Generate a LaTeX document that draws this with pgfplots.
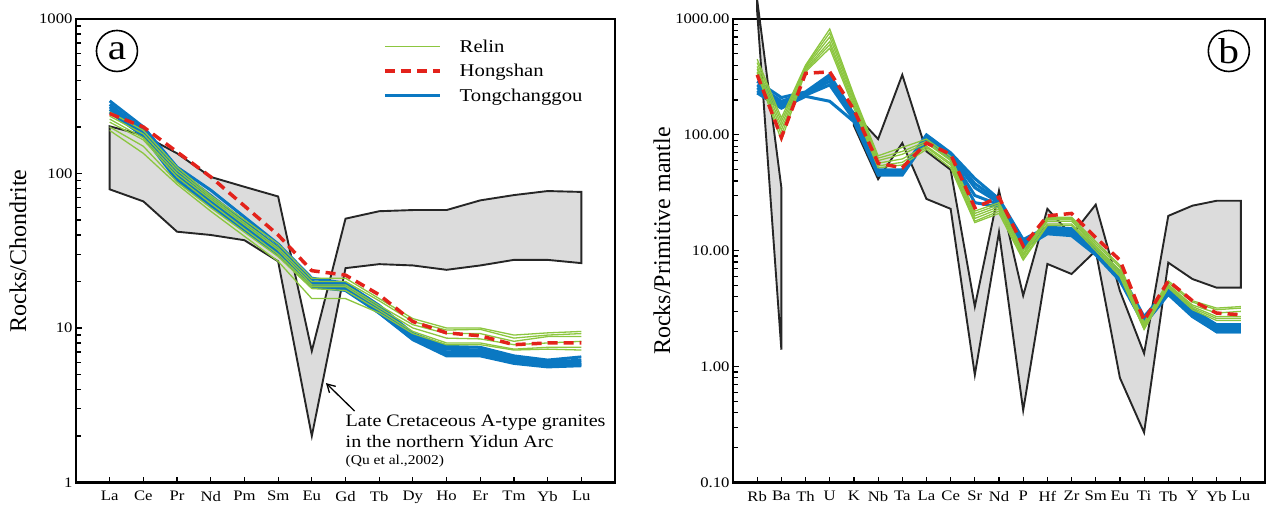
\documentclass[border=0pt]{standalone}
\usepackage{fontspec}
\setmainfont{Liberation Serif}[FakeStretch=1.15]
\newfontfamily\labelfont{Liberation Serif}
\usepackage{pgfplots}
\pgfplotsset{compat=1.18}
\usepackage{pgfplotstable}
\usetikzlibrary{arrows.meta}

\definecolor{relin}{HTML}{8CC63F}
\definecolor{hong}{HTML}{E3221B}
\definecolor{tong}{HTML}{0A78C2}
\definecolor{field}{HTML}{DCDCDC}

% Chondrite-normalised REE (panel a)
\pgfplotstableread{
x  r1   r2   r3   r4   r5   r6   t1   t2   t3   t4   t5   h
0  250  235  225  215  200  190  295  280  270  260  250  244
1  190  180  170  165  150  135  200  190  185  180  175  200
2  110  105  100  95   88   85   110  105  100  95   90   138
3  72   70   68   64   60   57   78   72   68   65   62   95
5  35   33   32   30   29   27   35   33   32   31   30   40
6  21   20   19   18.5 18   15.5 21   20   19.5 19   18.5 23.5
7  21   20   19   18.5 17.5 15.5 19.5 19   18.5 18   17.5 22
8  15.5 15   14   13.5 13   12.5 14   13.5 13   12.5 12.5 16.4
9  11.5 11   10.5 10   9.5  9.2  9.2  9    8.8  8.5  8.4  11
10 10   9.7  9.2  8.6  8    7.8  7.6  7.3  7    6.8  6.6  9.3
11 10   9.8  9.2  8.5  8    7.8  7.5  7.2  7    6.8  6.6  8.9
12 9    8.6  8.2  7.8  7.3  7.2  6.6  6.4  6.2  6.0  5.9  7.8
13 9.3  9    8.8  8    7.5  7.3  6.2  6.0  5.9  5.8  5.6  8.0
14 9.5  9.2  8.8  8.2  7.5  7.2  6.5  6.2  6.0  5.8  5.7  8.0
}\tabA

% Primitive-mantle-normalised trace elements (panel b)
\pgfplotstableread{
x  r1   r2   r3   r4   r5   r6   t1   t2   t3   t4   t5   h
0  450  420  390  370  350  340  290  270  255  240  230  330
1  140  130  120  110  100  90   210  195  185  175  170  95
2  400  390  380  370  360  350  235  230  225  220  215  340
3  820  760  700  640  600  560  330  310  290  270  195  350
4  220  210  200  190  180  170  150  145  140  135  130  165
5  66   63   60   57   54   52   50   48   47   46   45   57
6  78   72   68   62   58   55   50   48   47   46   45   52
7  92   88   85   80   78   75   100  97   95   93   90   85
8  65   62   60   57   55   52   70   68   66   64   62   68
9  22   21   20   19   18   17.5 42   38   35   30   26   23.5
10 26   25   24   23   22   21   28   27   26   25   24   29
11 10   9.5  9.2  9    8.6  8.3  12.5 12   11.5 11   10.5 11
12 19.5 19   18.5 18   17   16.5 16   15.5 15   14.5 14   20
13 19.5 19   18.5 18   17   16.5 15.5 15   14.5 14   13.5 21
14 12   11.5 11   10.8 10.5 10   10.5 10   9.8  9.5  9.2  13
15 7.5  7.2  6.8  6.5  6.2  6    6.5  6.2  6    5.8  5.5  8.3
16 2.4  2.3  2.25 2.2  2.1  2.1  2.7  2.6  2.5  2.4  2.3  2.5
17 5.5  5.3  5.1  5    4.9  4.8  4.7  4.5  4.4  4.3  4.2  5.5
18 3.7  3.6  3.4  3.3  3.2  3.1  3.1  3.0  2.9  2.8  2.7  3.7
19 3.2  3.1  2.9  2.7  2.6  2.5  2.3  2.2  2.1  2.0  2.0  2.9
20 3.3  3.2  3.0  2.7  2.6  2.5  2.3  2.2  2.1  2.0  2.0  2.8
}\tabB

\begin{document}
\begin{tikzpicture}[x=1pt,y=1pt]
\path[use as bounding box] (0,0) rectangle (1266,509);

% ---------------- panel a ----------------
\begin{axis}[at={(76pt,26.5pt)}, anchor=south west,
  scale only axis, width=539pt, height=463.5pt, ymode=log, clip=false,
  xmin=-1, xmax=15, ymin=1, ymax=1000,
  tick align=inside, xtick pos=left, ytick pos=left,
  major tick length=6pt, minor tick length=5pt,
  every tick/.style={black, line width=1.2pt},
  axis line style={line width=2.4pt},
  tick label style={font=\fontsize{14.5}{16}\selectfont},
  /pgf/number format/assume math mode=true,
  xticklabel style={yshift=-5pt},
  xtick={0,...,14}, xticklabels={La,Ce,Pr,Nd,Pm,Sm,Eu,Gd,Tb,Dy,Ho,Er,Tm,Yb,Lu},
  ytick={1,10,100,1000}, yticklabels={1,10,100,1000},
  ylabel={Rocks/Chondrite},
  ylabel style={font=\labelfont\fontsize{24}{26}\selectfont, anchor=center,
    at={(axis description cs:-0.1076,0.5)}},
  legend image code/.code={\draw[#1] (0pt,0pt) -- (55pt,0pt);},
  legend style={at={(axis description cs:0.5696,0.960)}, anchor=north west,
    draw=none, fill=none, inner sep=0pt, row sep=6.5pt, column sep=16pt,
    nodes={inner sep=2pt}, font=\fontsize{18}{20}\selectfont},
  legend cell align=left,
]
\addlegendimage{relin, line width=1.5pt}\addlegendentry{Relin}
\addlegendimage{hong, line width=3.5pt, dash pattern=on 10pt off 6pt}\addlegendentry{Hongshan}
\addlegendimage{tong, line width=3.5pt}\addlegendentry{Tongchanggou}

\addplot[fill=field, draw=black!85, line width=1.9pt, forget plot] coordinates {
 (0,202) (1,177) (2,135) (3,95) (4,82) (5,71) (6,7.1) (7,51) (8,57) (9,58)
 (10,58) (11,67) (12,72.5) (13,77) (14,76)
 (14,26.3) (13,27.6) (12,27.6) (11,25.4) (10,23.8) (9,25.4) (8,25.9) (7,24.4)
 (6,2.0) (5,27) (4,37) (3,40) (2,42) (1,66) (0,79)} -- cycle;

\addplot[tong, line width=3pt, forget plot] table[x=x,y=t1] {\tabA};
\addplot[tong, line width=3pt, forget plot] table[x=x,y=t2] {\tabA};
\addplot[tong, line width=3pt, forget plot] table[x=x,y=t3] {\tabA};
\addplot[tong, line width=3pt, forget plot] table[x=x,y=t4] {\tabA};
\addplot[tong, line width=3pt, forget plot] table[x=x,y=t5] {\tabA};
\addplot[relin, line width=1.3pt, forget plot] table[x=x,y=r1] {\tabA};
\addplot[relin, line width=1.3pt, forget plot] table[x=x,y=r2] {\tabA};
\addplot[relin, line width=1.3pt, forget plot] table[x=x,y=r3] {\tabA};
\addplot[relin, line width=1.3pt, forget plot] table[x=x,y=r4] {\tabA};
\addplot[relin, line width=1.3pt, forget plot] table[x=x,y=r5] {\tabA};
\addplot[relin, line width=1.3pt, forget plot] table[x=x,y=r6] {\tabA};
\addplot[hong, line width=3.5pt, dash pattern=on 10pt off 6pt, forget plot] table[x=x,y=h] {\tabA};

\draw[-{Straight Barb[length=8pt,width=9pt]}, line width=1.3pt] (axis cs:7.27,2.9) -- (axis cs:6.42,4.4);
\node[anchor=west, font=\fontsize{17.5}{19}\selectfont, inner sep=0pt] at (axis cs:7.0,2.44) {Late Cretaceous A-type granites};
\node[anchor=west, font=\fontsize{17.5}{19}\selectfont, inner sep=0pt] at (axis cs:7.0,1.84) {in the northern Yidun Arc};
\node[anchor=west, font=\fontsize{13.5}{15}\selectfont, inner sep=0pt] at (axis cs:7.0,1.37) {(Qu et al.,2002)};
\node[draw, circle, line width=1.6pt, minimum size=41pt, inner sep=0pt, font=\fontsize{36}{36}\selectfont]
  at (axis description cs:0.076,0.931) {a};
\end{axis}

% ---------------- panel b ----------------
\begin{axis}[at={(733pt,26.5pt)}, anchor=south west,
  scale only axis, width=532pt, height=463.5pt, ymode=log, clip=false,
  xmin=-1, xmax=21, ymin=0.1, ymax=1000,
  tick align=inside, xtick pos=left, ytick pos=left,
  major tick length=6pt, minor tick length=5pt,
  every tick/.style={black, line width=1.2pt},
  axis line style={line width=2.4pt},
  tick label style={font=\fontsize{14.5}{16}\selectfont},
  /pgf/number format/assume math mode=true,
  xticklabel style={yshift=-5pt},
  xtick={0,...,20}, xticklabels={Rb,Ba,Th,U,K,Nb,Ta,La,Ce,Sr,Nd,P,Hf,Zr,Sm,Eu,Ti,Tb,Y,Yb,Lu},
  ytick={0.1,1,10,100,1000}, yticklabels={0.10,1.00,10.00,100.00,1000.00},
  ylabel={Rocks/Primitive mantle},
  ylabel style={font=\labelfont\fontsize{24}{26}\selectfont, anchor=center,
    at={(axis description cs:-0.1335,0.521)}},
]
\addplot[fill=field, draw=black!85, line width=1.9pt, forget plot] coordinates {(0,1460) (1,35) (1,1.4) (0,1150)} -- cycle;
\addplot[fill=field, draw=black!85, line width=1.9pt, forget plot] coordinates {
 (4,155) (5,92) (6,330) (7,72) (8,50) (9,3.3) (10,33) (11,4.1) (12,23) (13,13.6)
 (14,25) (15,4.5) (16,1.3) (17,20) (18,24.5) (19,27) (20,27)
 (20,4.8) (19,4.8) (18,5.7) (17,7.9) (16,0.27) (15,0.8) (14,10) (13,6.3) (12,7.7)
 (11,0.42) (10,14.5) (9,0.85) (8,23) (7,28) (6,85) (5,41.5) (4,120)} -- cycle;

\addplot[tong, line width=3pt, forget plot] table[x=x,y=t1] {\tabB};
\addplot[tong, line width=3pt, forget plot] table[x=x,y=t2] {\tabB};
\addplot[tong, line width=3pt, forget plot] table[x=x,y=t3] {\tabB};
\addplot[tong, line width=3pt, forget plot] table[x=x,y=t4] {\tabB};
\addplot[tong, line width=3pt, forget plot] table[x=x,y=t5] {\tabB};
\addplot[relin, line width=1.3pt, forget plot] table[x=x,y=r1] {\tabB};
\addplot[relin, line width=1.3pt, forget plot] table[x=x,y=r2] {\tabB};
\addplot[relin, line width=1.3pt, forget plot] table[x=x,y=r3] {\tabB};
\addplot[relin, line width=1.3pt, forget plot] table[x=x,y=r4] {\tabB};
\addplot[relin, line width=1.3pt, forget plot] table[x=x,y=r5] {\tabB};
\addplot[relin, line width=1.3pt, forget plot] table[x=x,y=r6] {\tabB};
\addplot[hong, line width=3.5pt, dash pattern=on 10pt off 6pt, forget plot] table[x=x,y=h] {\tabB};

\node[draw, circle, line width=1.6pt, minimum size=41pt, inner sep=0pt, font=\fontsize{36}{36}\selectfont]
  at (axis description cs:0.932,0.931) {b};
\end{axis}
\end{tikzpicture}
\end{document}
